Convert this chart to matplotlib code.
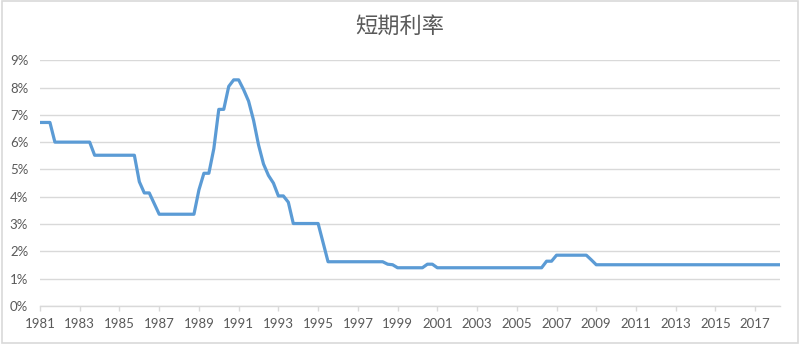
import matplotlib
matplotlib.use('Agg')
import matplotlib.pyplot as plt
from matplotlib.patches import Rectangle
from matplotlib.ticker import FixedLocator, FuncFormatter

plt.rcParams['font.family'] = ['Lato', 'Noto Sans CJK SC', 'DejaVu Sans']

title = '短期利率'
start_year = 1981

# quarterly short-term rate (%), one row per year, 1981Q1 .. 2018Q2
rates = [
    6.72, 6.72, 6.72, 6.00,   # 1981
    6.00, 6.00, 6.00, 6.00,   # 1982
    6.00, 6.00, 6.00, 5.52,   # 1983
    5.52, 5.52, 5.52, 5.52,   # 1984
    5.52, 5.52, 5.52, 5.52,   # 1985
    4.55, 4.14, 4.14, 3.75,   # 1986
    3.36, 3.36, 3.36, 3.36,   # 1987
    3.36, 3.36, 3.36, 3.36,   # 1988
    4.25, 4.86, 4.86, 5.76,   # 1989
    7.20, 7.20, 8.04, 8.28,   # 1990
    8.28, 7.92, 7.50, 6.80,   # 1991
    5.90, 5.20, 4.78, 4.50,   # 1992
    4.03, 4.03, 3.80, 3.02,   # 1993
    3.02, 3.02, 3.02, 3.02,   # 1994
    3.02, 2.32, 1.62, 1.62,   # 1995
    1.62, 1.62, 1.62, 1.62,   # 1996
    1.62, 1.62, 1.62, 1.62,   # 1997
    1.62, 1.62, 1.53, 1.51,   # 1998
    1.40, 1.40, 1.40, 1.40,   # 1999
    1.40, 1.40, 1.53, 1.53,   # 2000
    1.40, 1.40, 1.40, 1.40,   # 2001
    1.40, 1.40, 1.40, 1.40,   # 2002
    1.40, 1.40, 1.40, 1.40,   # 2003
    1.40, 1.40, 1.40, 1.40,   # 2004
    1.40, 1.40, 1.40, 1.40,   # 2005
    1.40, 1.40, 1.64, 1.64,   # 2006
    1.86, 1.86, 1.86, 1.86,   # 2007
    1.86, 1.86, 1.86, 1.69,   # 2008
    1.51, 1.51, 1.51, 1.51,   # 2009
    1.51, 1.51, 1.51, 1.51,   # 2010
    1.51, 1.51, 1.51, 1.51,   # 2011
    1.51, 1.51, 1.51, 1.51,   # 2012
    1.51, 1.51, 1.51, 1.51,   # 2013
    1.51, 1.51, 1.51, 1.51,   # 2014
    1.51, 1.51, 1.51, 1.51,   # 2015
    1.51, 1.51, 1.51, 1.51,   # 2016
    1.51, 1.51, 1.51, 1.51,   # 2017
    1.51, 1.51,               # 2018
]
year_labels = [str(y) for y in range(1981, 2018, 2)]
y_ticks = [0, 1, 2, 3, 4, 5, 6, 7, 8, 9]

x = [start_year + i / 4 for i in range(len(rates))]

text_color = '#595959'
grid_color = '#d9d9d9'

fig = plt.figure(figsize=(8, 3.44), dpi=100)
ax = fig.add_axes([0.05, 0.1105, 0.925, 0.7145])

ax.plot(x, rates, color='#5b9bd5', linewidth=2.3, solid_joinstyle='round', zorder=3)

ax.set_xlim(x[0], x[-1])
ax.set_ylim(0, 9)

ax.set_yticks(y_ticks)
ax.yaxis.set_major_formatter(FuncFormatter(lambda v, p: '%d%%' % v))
ax.grid(axis='y', color=grid_color, linewidth=1)
ax.set_axisbelow(True)

ax.xaxis.set_major_locator(FixedLocator([int(s) for s in year_labels]))
ax.set_xticklabels(year_labels)

for side in ['top', 'right', 'left']:
    ax.spines[side].set_visible(False)
ax.spines['bottom'].set_color(grid_color)
ax.spines['bottom'].set_linewidth(1)

ax.tick_params(axis='y', length=0, pad=8.5, labelsize=9.5, labelcolor=text_color)
ax.tick_params(axis='x', length=3.6, width=1, color=grid_color, pad=5, labelsize=9.5, labelcolor=text_color)

fig.text(0.5, 0.924, title, ha='center', va='center', fontsize=16,
         color=text_color, family=['Noto Sans CJK SC', 'DejaVu Sans'])

fig.patches.append(Rectangle((0.002, 0.004), 0.996, 0.992, transform=fig.transFigure,
                             fill=False, edgecolor=grid_color, linewidth=1.2))

fig.savefig('out.png', dpi=100)
